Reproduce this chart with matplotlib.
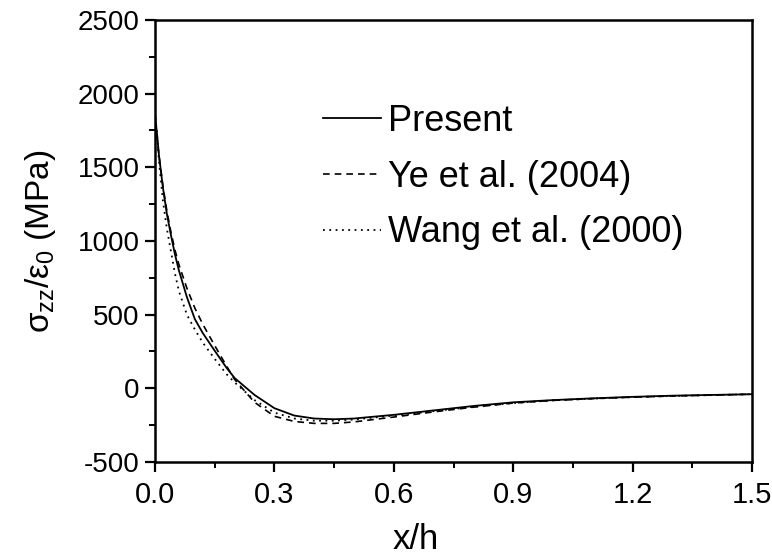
import numpy as np
import matplotlib
matplotlib.use('Agg')
import matplotlib.pyplot as plt
from matplotlib.ticker import MultipleLocator

# x/h positions (shared by all three curves)
x_h = [0, 0.005, 0.01, 0.02, 0.03, 0.04, 0.05, 0.06, 0.08, 0.1, 0.12, 0.15,
       0.18, 0.2, 0.25, 0.3, 0.35, 0.4, 0.45, 0.5, 0.6, 0.7, 0.8, 0.9, 1.0,
       1.1, 1.2, 1.3, 1.4, 1.5]

# sigma_zz / eps_0 (MPa)
present = [1850, 1730, 1580, 1360, 1180, 1040, 910, 800, 620, 470, 375, 255,
           138, 70, -45, -135, -185, -205, -210, -205, -180, -150, -120, -95,
           -80, -68, -58, -50, -45, -40]
ye_2004 = [1800, 1700, 1580, 1370, 1200, 1060, 940, 840, 680, 545, 435, 290,
           150, 60, -95, -190, -225, -238, -238, -228, -195, -160, -128, -100,
           -82, -70, -60, -52, -46, -40]
wang_2000 = [1880, 1720, 1540, 1270, 1080, 930, 780, 660, 500, 400, 310, 200,
             95, 40, -80, -165, -205, -220, -220, -212, -185, -155, -125, -100,
             -82, -70, -60, -52, -46, -40]

labels = ['Present', 'Ye et al. (2004)', 'Wang et al. (2000)']

x_ticks = [0.0, 0.3, 0.6, 0.9, 1.2, 1.5]
y_ticks = [-500, 0, 500, 1000, 1500, 2000, 2500]


def main():
    plt.rcParams['font.family'] = ['Liberation Sans', 'DejaVu Sans']
    plt.rcParams['mathtext.fontset'] = 'custom'
    plt.rcParams['mathtext.rm'] = 'Liberation Sans'
    plt.rcParams['mathtext.it'] = 'Liberation Sans:italic'
    plt.rcParams['axes.unicode_minus'] = False

    fig = plt.figure(figsize=(7.72, 5.57), dpi=100)
    ax = fig.add_axes([0.2008, 0.1706, 0.7733, 0.7935])

    ax.plot(x_h, present, color='black', lw=1.3, ls='-', label=labels[0])
    ax.plot(x_h, ye_2004, color='black', lw=1.2, ls=(0, (4, 3)), label=labels[1])
    ax.plot(x_h, wang_2000, color='black', lw=1.3, ls=(0, (1, 2.5)), label=labels[2])

    ax.set_xlim(0, 1.5)
    ax.set_ylim(-500, 2500)
    ax.set_xticks(x_ticks)
    ax.set_xticklabels([f'{v:.1f}' for v in x_ticks])
    ax.set_yticks(y_ticks)
    ax.xaxis.set_minor_locator(MultipleLocator(0.15))
    ax.yaxis.set_minor_locator(MultipleLocator(250))

    ax.tick_params(which='major', direction='out', length=7, width=1.6,
                   labelsize=20, pad=4, top=False, right=False)
    ax.tick_params(axis='x', which='major', pad=7, labelsize=21)
    ax.tick_params(which='minor', direction='out', length=4, width=1.4,
                   top=False, right=False)
    for sp in ax.spines.values():
        sp.set_linewidth(1.8)

    ax.set_xlabel('x/h', fontsize=25)
    ax.set_ylabel(r'σ$_{\mathrm{zz}}$/ε$_{\mathrm{0}}$ (MPa)', fontsize=24)
    ax.xaxis.set_label_coords(0.437, -0.138)
    ax.yaxis.set_label_coords(-0.163, 0.5)

    ax.legend(loc='upper left', bbox_to_anchor=(0.282, 0.81), frameon=False,
              fontsize=26, handlelength=1.6, handletextpad=0.2,
              labelspacing=0.57, borderaxespad=0, borderpad=0)

    fig.savefig('out.png', dpi=100, facecolor='white')


if __name__ == '__main__':
    main()
